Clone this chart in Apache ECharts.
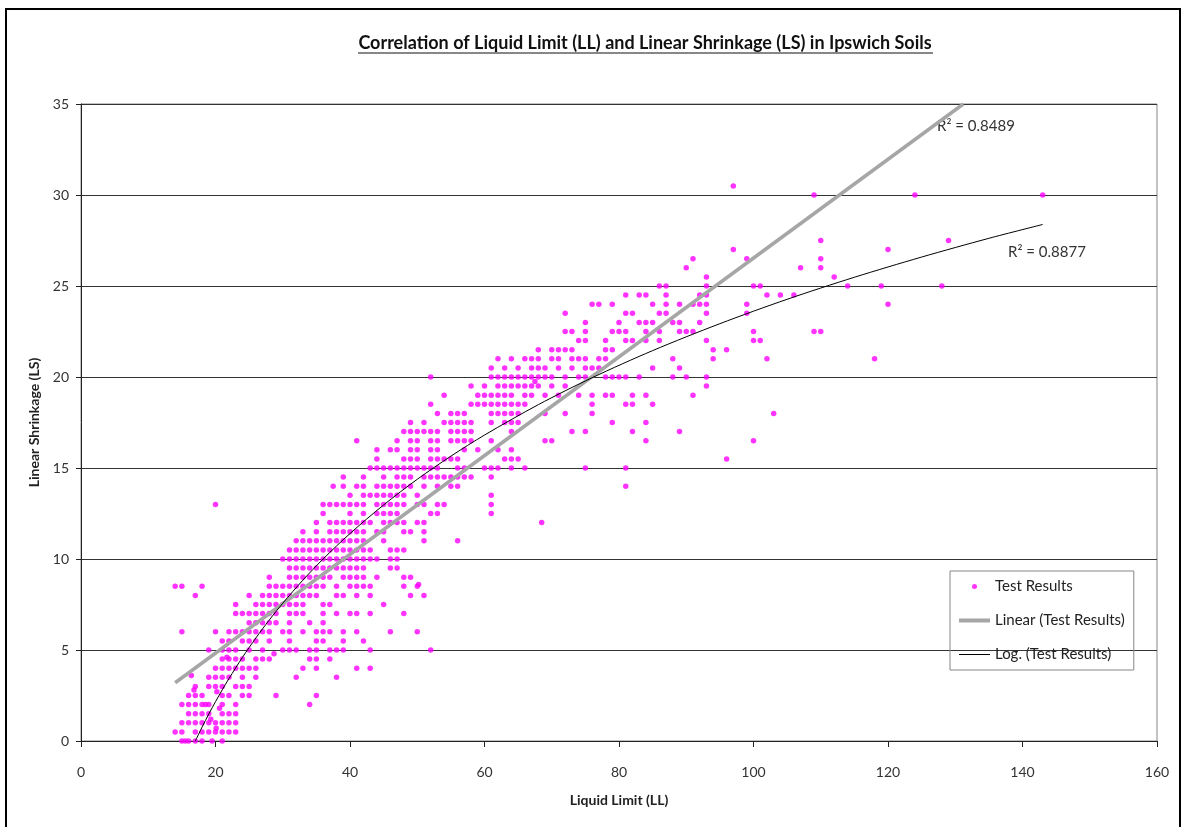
<!DOCTYPE html>
<html>
<head>
<meta charset="utf-8">
<title>Liquid Limit vs Linear Shrinkage</title>
<script src="https://cdn.jsdelivr.net/npm/echarts@6.0.0/dist/echarts.min.js"></script>
<style>
  html, body { margin: 0; padding: 0; background: #fff; }
  #main { width: 1184px; height: 827px; }
</style>
</head>
<body>
<div id="main"></div>
<script>
// test results: [LS, [LL values at that LS]]
var lowRows = [
    [0,   [15, 15.5, 16, 17, 18, 19.5, 21]],
    [0.5, [14, 15, 17, 18, 19, 20, 21, 22, 23]],
    [1,   [15, 16, 17, 18, 19, 20, 21, 22, 23]],
    [1.5, [16, 17, 18, 19, 21, 22, 23]],
    [2,   [15, 16, 17, 18, 18.5, 19, 21, 23, 34]],
    [2.5, [16, 17, 18, 21, 22, 24, 25, 29, 35]],
    [3,   [17, 19, 20, 21, 23, 24, 25]],
    [3.5, [19, 20, 21, 22, 24, 26, 32, 38]],
    [4,   [20, 21, 22, 23, 24, 25, 26, 33, 35, 41, 43]],
    [4.5, [21, 22, 23, 24, 26, 27, 28, 34, 35, 37]]
];
var midRows = [
    [5,    [19, 21, 22, 23, 25, 27, 30, 31, 32, 34, 35, 37, 38, 39, 43, 52]],
    [5.5,  [21, 22, 24, 25, 26, 28, 31, 35, 36, 39, 42]],
    [6,    [15, 20, 22, 23, 24, 25, 26, 27, 28, 30, 31, 33, 35, 36, 37, 39, 41, 46, 50]],
    [6.5,  [25, 26, 27, 28, 29, 31, 34, 36]],
    [7,    [23, 24, 25, 26, 27, 28, 29, 31, 32, 33, 36, 38, 40, 41, 43, 48]],
    [7.5,  [23, 26, 27, 28, 29, 30, 31, 32, 33, 36, 37, 45]],
    [8,    [17, 25, 27, 28, 29, 30, 31, 32, 33, 34, 35, 38, 39, 41, 43, 49, 51]],
    [8.5,  [14, 15, 18, 28, 29, 30, 31, 32, 33, 34, 35, 36, 38, 40, 41, 42, 43, 48, 50]],
    [9,    [28, 31, 32, 33, 34, 35, 36, 37, 39, 40, 41, 42, 44, 48, 49]],
    [9.5,  [31, 32, 33, 34, 35, 36, 37, 38, 39, 40, 41, 42, 46, 47]],
    [10,   [30, 31, 32, 33, 34, 35, 36, 37, 38, 39, 40, 41, 42, 43, 44, 46, 47]],
    [10.5, [31, 32, 33, 34, 35, 36, 37, 38, 39, 40, 41, 42, 43, 46, 47, 48]]
];
var upperRows = [
    [11,   [32, 33, 34, 35, 36, 37, 38, 39, 40, 41, 42, 45, 51, 56]],
    [11.5, [33, 35, 37, 38, 39, 40, 41, 42, 44, 45, 48, 49, 51]],
    [12,   [35, 37, 38, 39, 40, 41, 42, 43, 45, 46, 47, 48, 50, 51, 68.5]],
    [12.5, [36, 40, 42, 44, 45, 46, 47, 52, 53, 61]],
    [13,   [20, 36, 37, 38, 39, 40, 41, 42, 44, 45, 46, 47, 48, 50, 51, 53, 54, 61]],
    [13.5, [40, 42, 43, 44, 45, 46, 47, 48, 50, 61]],
    [14,   [37.5, 39, 41, 42, 44, 45, 46, 47, 48, 49, 51, 53, 55, 56, 81]],
    [14.5, [39, 42, 45, 47, 48, 49, 51, 52, 53, 54, 55, 56, 57, 58, 61]],
    [15,   [43, 44, 45, 46, 47, 48, 49, 50, 51, 52, 53, 56, 57, 60, 61, 62, 64, 66, 75, 81]],
    [15.5, [44, 48, 49, 50, 52, 53, 54, 55, 56, 63, 64, 65, 96]],
    [16,   [44, 46, 47, 49, 50, 52, 53, 57, 59, 62, 64]],
    [16.5, [41, 47, 49, 50, 52, 53, 55, 56, 57, 58, 61, 69, 70, 84, 100]],
    [17,   [48, 49, 50, 51, 52, 53, 55, 56, 57, 58, 64, 73, 75, 82, 89]],
    [17.5, [49, 51, 54, 55, 56, 57, 58, 61, 63, 64, 65, 79, 84]],
    [18,   [53, 55, 56, 57, 61, 62, 63, 64, 65, 69, 72, 76, 103]],
    [18.5, [52, 58, 59, 60, 61, 62, 63, 64, 65, 66, 76, 81, 82, 85]]
];
var highRows = [
    [19,   [54, 59, 60, 61, 62, 63, 64, 66, 67, 69, 71, 74, 76, 78, 79, 82, 84, 91]],
    [19.5, [58, 60, 62, 63, 64, 65, 66, 67, 68, 70, 72, 93]],
    [20,   [52, 61, 62, 63, 64, 65, 66, 67, 68, 69, 70, 72, 74, 75, 78, 79, 80, 81, 83, 88, 90, 93]],
    [20.5, [61, 63, 65, 67, 68, 69, 71, 73, 75, 76, 77, 85, 89]],
    [21,   [62, 64, 66, 67, 68, 70, 71, 73, 74, 75, 77, 78, 88, 94, 102, 118]],
    [21.5, [68, 70, 71, 72, 73, 78, 79, 94, 96]],
    [22,   [74, 75, 78, 81, 82, 84, 86, 93, 100, 101]],
    [22.5, [72, 73, 75, 79, 80, 81, 84, 86, 89, 90, 91, 100, 109, 110]],
    [23,   [75, 80, 83, 84, 85, 88, 89, 92]],
    [23.5, [72, 81, 82, 86, 87, 93, 99]],
    [24,   [76, 77, 79, 85, 87, 89, 91, 92, 93, 99, 120]],
    [24.5, [81, 83, 84, 87, 92, 93, 102, 104, 106]],
    [25,   [86, 87, 93, 100, 101, 114, 119, 128]],
    [25.5, [93, 112]],
    [26,   [90, 107, 110]],
    [26.5, [91, 99, 110]],
    [27,   [97, 120]],
    [27.5, [110, 129]],
    [30,   [109, 124, 143]],
    [30.5, [97]]
];
// a few points that sit between the half-unit rows: [LL, LS]
var offGrid = [
    [20.1, 0.7], [19.3, 1.2], [20.6, 1.8], [20.2, 2.7], [16.8, 2.8],
    [16.4, 3.6], [21.7, 4.6], [28.7, 4.8], [50.2, 8.6], [67.5, 19.75]
];

// trendlines: [LL, LS]
var linearTrend = [[14, 3.2], [131.2, 35]];
var logTrend = [
    [17, 0], [17.5, 0.38], [18, 0.76], [19, 1.48], [20, 2.16], [21, 2.81],
    [22, 3.43], [24, 4.59], [26, 5.66], [28, 6.65], [30, 7.57], [33, 8.84],
    [36, 10.0], [40, 11.4], [45, 12.97], [50, 14.38], [55, 15.65], [60, 16.81],
    [68, 18.48], [76, 19.96], [85, 21.45], [95, 22.93], [105, 24.27],
    [115, 25.48], [125, 26.59], [135, 27.62], [143, 28.38]
];
var r2Linear = 'R\u00b2 = 0.8489';
var r2Log = 'R\u00b2 = 0.8877';

function rowsToPoints(rows) {
    var pts = [];
    rows.forEach(function (r) {
        r[1].forEach(function (ll) { pts.push([ll, r[0]]); });
    });
    return pts;
}
var testResults = [].concat(
    rowsToPoints(lowRows), rowsToPoints(midRows),
    rowsToPoints(upperRows), rowsToPoints(highRows), offGrid
);

var FONT = 'Lato, sans-serif';
var myChart = echarts.init(document.getElementById('main'));

myChart.setOption({
    animation: false,
    backgroundColor: '#fff',
    textStyle: { fontFamily: FONT },
    grid: {
        left: 81, top: 104, right: 27, bottom: 86,
        show: true, borderColor: '#868686', borderWidth: 1,
        outerBoundsMode: 'none'
    },
    xAxis: {
        type: 'value', min: 0, max: 160, interval: 20,
        name: 'Liquid Limit (LL)', nameLocation: 'middle', nameGap: 52,
        nameTextStyle: { fontSize: 14, fontWeight: 'bold', color: '#222', fontFamily: FONT },
        axisLine: { onZero: false, lineStyle: { color: '#222', width: 1 } },
        axisTick: { show: true, length: 6, lineStyle: { color: '#222' } },
        axisLabel: { margin: 24, fontSize: 14, color: '#333', fontFamily: FONT },
        splitLine: { show: false }
    },
    yAxis: {
        type: 'value', min: 0, max: 35, interval: 5,
        name: 'Linear Shrinkage (LS)', nameLocation: 'middle', nameGap: 40,
        nameTextStyle: { fontSize: 14, fontWeight: 'bold', color: '#222', fontFamily: FONT },
        axisLine: { show: true, lineStyle: { color: '#222', width: 1 } },
        axisTick: { show: true, length: 5, lineStyle: { color: '#222' } },
        axisLabel: { margin: 12, fontSize: 14, color: '#333', fontFamily: FONT },
        splitLine: { show: true, lineStyle: { color: '#333', width: 1 } }
    },
    legend: {
        orient: 'vertical', left: 950, top: 571,
        padding: [8, 9, 8, 7],
        itemGap: 19, itemWidth: 31, itemHeight: 5,
        borderColor: '#868686', borderWidth: 1,
        textStyle: { fontSize: 15, color: '#222', fontFamily: FONT },
        data: [
            { name: 'Test Results', icon: 'circle' },
            { name: 'Linear (Test Results)', lineStyle: { color: '#A6A6A6', width: 4 }, itemStyle: { opacity: 0 } },
            { name: 'Log. (Test Results)', lineStyle: { color: '#000', width: 1 }, itemStyle: { opacity: 0 } }
        ]
    },
    graphic: [
        {
            type: 'rect', silent: true, z: 100,
            shape: { x: 6, y: 9, width: 1174, height: 840 },
            style: { fill: 'none', stroke: '#000', lineWidth: 2 }
        },
        {
            type: 'text', x: 645, y: 43,
            style: {
                text: 'Correlation of Liquid Limit (LL) and Linear Shrinkage (LS) in Ipswich Soils',
                font: 'bold 18px Lato', fill: '#111', align: 'center', verticalAlign: 'middle'
            }
        },
        {
            type: 'line', silent: true,
            shape: { x1: 358, y1: 53, x2: 933, y2: 53 },
            style: { stroke: '#111', lineWidth: 1 }
        },
        {
            type: 'text', x: 937, y: 126,
            style: { text: r2Linear, font: '15px Lato', fill: '#333', verticalAlign: 'middle' }
        },
        {
            type: 'text', x: 1008, y: 252,
            style: { text: r2Log, font: '15px Lato', fill: '#333', verticalAlign: 'middle' }
        }
    ],
    series: [
        {
            name: 'Test Results', type: 'scatter',
            data: testResults,
            symbol: 'circle', symbolSize: 5.5,
            itemStyle: { color: '#FF00FF' },
            z: 2
        },
        {
            name: 'Linear (Test Results)', type: 'line',
            data: linearTrend,
            symbol: 'none',
            itemStyle: { color: '#A6A6A6' },
            lineStyle: { color: '#A6A6A6', width: 3.5 },
            z: 3
        },
        {
            name: 'Log. (Test Results)', type: 'line',
            data: logTrend,
            symbol: 'none', smooth: 0.3,
            itemStyle: { color: '#000' },
            lineStyle: { color: '#000', width: 1 },
            z: 4
        }
    ]
});
</script>
</body>
</html>
